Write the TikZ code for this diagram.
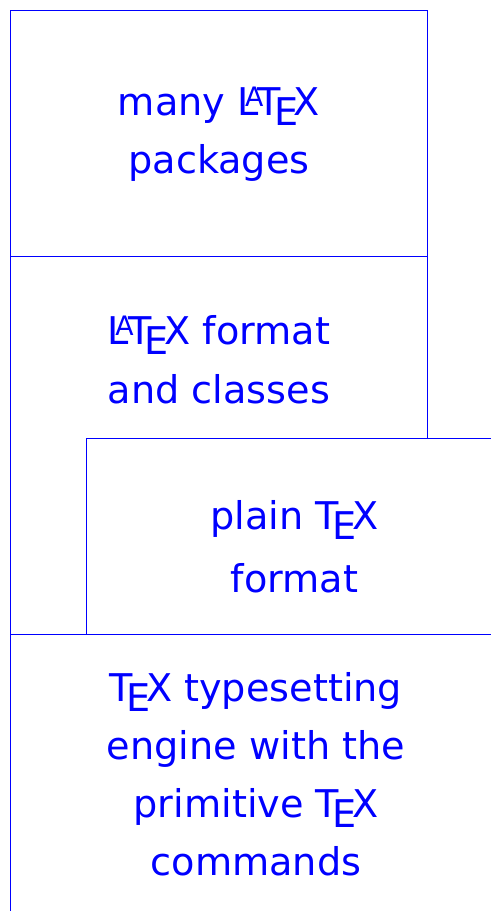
\documentclass[tikz,border=0pt]{standalone}
\usepackage{fontspec}
\setmainfont{DejaVu Sans}
\newcommand{\stacklines}[1]{\begin{tabular}[t]{@{}c@{}}#1\end{tabular}}
\begin{document}
\begin{tikzpicture}[x=0.5pt,y=-0.5pt,
  box/.style={draw=blue,line width=0.5pt},
  lbl/.style={text=blue,inner sep=0pt,anchor=base,font=\fontsize{19.1}{29}\selectfont}]
\useasboundingbox[clip] (0,0) rectangle (491,911);
% boxes
\draw[box] (10,10) rectangle (427,256);
\draw[box] (10,256) rectangle (427,634);
\draw[box,fill=white] (86,438) rectangle (503,634);
\draw[box] (10,634) rectangle (504,940);
% texts
\node[lbl] (pkgs) at (219,115) {\stacklines{many \LaTeX\\packages}};
\node[lbl] (fmt) at (219,344) {\stacklines{\LaTeX\ format\\[0.5pt]and classes}};
\node[lbl] (plain) at (294.5,529) {\stacklines{plain \TeX\\[2.5pt]format}};
\node[lbl] (engine) at (256,701) {\stacklines{\TeX\ typesetting\\engine with the\\primitive \TeX\\commands}};
\end{tikzpicture}
\end{document}
